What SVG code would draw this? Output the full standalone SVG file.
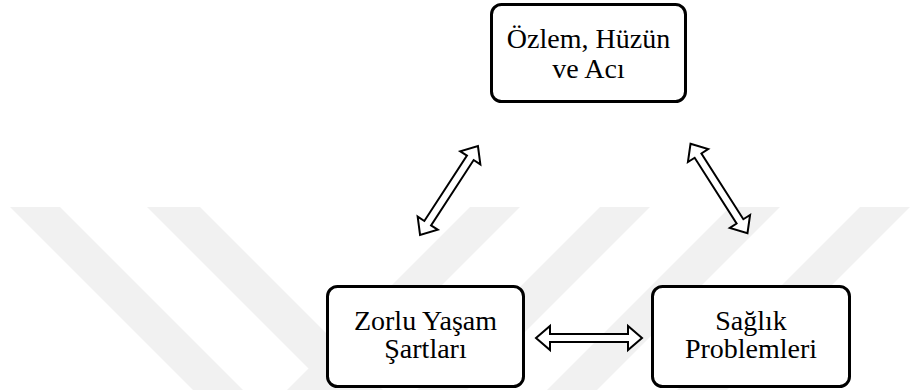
<svg xmlns="http://www.w3.org/2000/svg" xmlns:xlink="http://www.w3.org/1999/xlink" width="912" height="390" viewBox="0 0 912 390">
  <style>
    .wm { fill: #f1f1f1; stroke: none; }
    .box { fill: #ffffff; stroke: #000000; stroke-width: 3; }
    .lbl { font-family: "Liberation Serif", "Times New Roman", serif; font-size: 28px; fill: #000000; text-anchor: middle; }
    .arr { fill: #ffffff; stroke: #000000; stroke-width: 2; stroke-linejoin: miter; }
  </style>
  <defs>
    <path id="dblArrow" d="M-53,0 L-39,-12 L-39,-4 L39,-4 L39,-12 L53,0 L39,12 L39,4 L-39,4 L-39,12 Z"/>
  </defs>
  <rect x="0" y="0" width="912" height="390" fill="#ffffff"/>
  <g id="watermark">
    <polygon class="wm" points="10,207 60,207 243,390 193,390"/>
    <polygon class="wm" points="147,207 200,207 383,390 330,390"/>
    <polygon class="wm" points="470,207 520,207 337,390 287,390"/>
    <polygon class="wm" points="600,207 650,207 467,390 417,390"/>
    <polygon class="wm" points="730,207 780,207 597,390 547,390"/>
    <polygon class="wm" points="860,207 910,207 727,390 677,390"/>
  </g>
  <g id="connectors">
    <use xlink:href="#dblArrow" class="arr" transform="translate(449,190.5) rotate(-56.9)"/>
    <use xlink:href="#dblArrow" class="arr" transform="translate(719,188.5) rotate(57.5)"/>
    <use xlink:href="#dblArrow" class="arr" transform="translate(589,338)"/>
  </g>
  <g id="node-ozlem">
    <rect class="box" x="491.5" y="4.5" width="194" height="97" rx="10" ry="10"/>
    <text class="lbl" x="588.5" y="47.7">Özlem, Hüzün</text>
    <text class="lbl" x="588.5" y="78.3">ve Acı</text>
  </g>
  <g id="node-zorlu">
    <rect class="box" x="327.5" y="286.5" width="196" height="100" rx="10" ry="10"/>
    <text class="lbl" x="425.5" y="330">Zorlu Yaşam</text>
    <text class="lbl" x="425.5" y="358">Şartları</text>
  </g>
  <g id="node-saglik">
    <rect class="box" x="652.5" y="286.5" width="197" height="100" rx="10" ry="10"/>
    <text class="lbl" x="751" y="330">Sağlık</text>
    <text class="lbl" x="751" y="358">Problemleri</text>
  </g>
</svg>
